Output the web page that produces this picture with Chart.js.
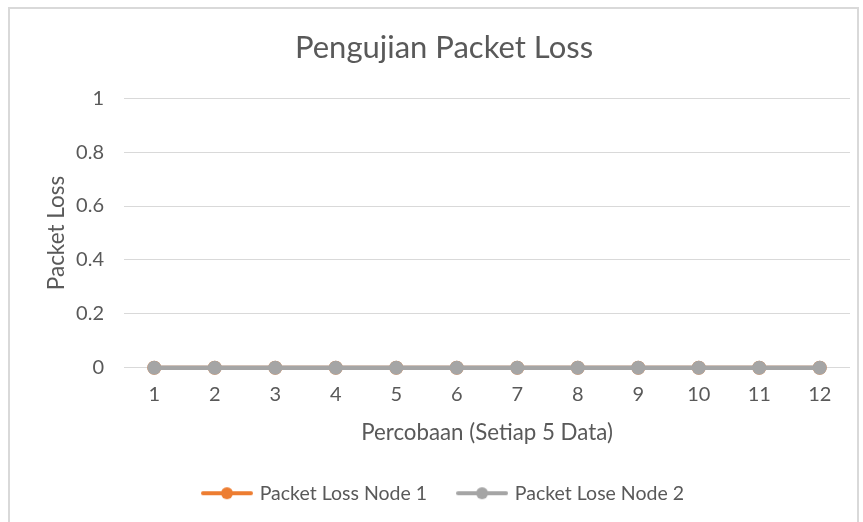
<!DOCTYPE html>
<html>
<head>
<meta charset="utf-8">
<script src="https://cdn.jsdelivr.net/npm/chart.js@4/dist/chart.umd.min.js"></script>
<style>
    html, body { margin: 0; padding: 0; background: #fff; }
    #wrap { position: relative; width: 863px; height: 522px; }
    #frame { position: absolute; left: 8px; top: 7px; width: 851px; height: 520px; border: 2px solid #d9d9d9; box-sizing: border-box; }
    canvas { position: absolute; left: 0; top: 0; }
</style>
</head>
<body>
<div id="wrap">
    <div id="frame"></div>
    <canvas id="chart" width="863" height="522"></canvas>
</div>
<script>
    const categories = ['1', '2', '3', '4', '5', '6', '7', '8', '9', '10', '11', '12'];
    const lossNode1 = [0, 0, 0, 0, 0, 0, 0, 0, 0, 0, 0, 0];
    const loseNode2 = [0, 0, 0, 0, 0, 0, 0, 0, 0, 0, 0, 0];
    const yTicks = [0, 0.2, 0.4, 0.6, 0.8, 1];

    const FONT = "Lato, 'Open Sans', sans-serif";
    const TEXT = '#595959';
    const ORANGE = '#ed7d31';
    const GRAY = '#a5a5a5';

    // small line + marker image for the legend
    function legendMark(color) {
        const c = document.createElement('canvas');
        c.width = 52;
        c.height = 14;
        const g = c.getContext('2d');
        g.strokeStyle = color;
        g.lineWidth = 4;
        g.lineCap = 'round';
        g.beginPath();
        g.moveTo(2, 7);
        g.lineTo(50, 7);
        g.stroke();
        g.fillStyle = color;
        g.beginPath();
        g.arc(26, 7, 6, 0, Math.PI * 2);
        g.fill();
        return c;
    }

    new Chart(document.getElementById('chart').getContext('2d'), {
        type: 'line',
        data: {
            labels: categories,
            datasets: [
                {
                    label: 'Packet Loss Node 1',
                    data: lossNode1,
                    borderColor: ORANGE,
                    backgroundColor: ORANGE,
                    borderWidth: 4,
                    pointRadius: 7,
                    pointBorderWidth: 0,
                    pointBackgroundColor: ORANGE,
                    clip: false,
                    order: 2
                },
                {
                    label: 'Packet Lose Node 2',
                    data: loseNode2,
                    borderColor: GRAY,
                    backgroundColor: GRAY,
                    borderWidth: 4.5,
                    pointRadius: 7,
                    pointBorderWidth: 0,
                    pointBackgroundColor: GRAY,
                    clip: false,
                    order: 1
                }
            ]
        },
        options: {
            responsive: false,
            animation: false,
            layout: { padding: { left: 38, right: 13, top: 0, bottom: 9 } },
            plugins: {
                title: {
                    display: true,
                    text: 'Pengujian Packet Loss',
                    color: TEXT,
                    font: { family: FONT, size: 31, weight: 'normal' },
                    padding: { top: 29, bottom: 32 }
                },
                legend: {
                    display: true,
                    position: 'bottom',
                    labels: {
                        color: TEXT,
                        font: { family: FONT, size: 19.5 },
                        usePointStyle: true,
                        pointStyleWidth: 46,
                        boxHeight: 14,
                        padding: 32,
                        generateLabels: chart => chart.data.datasets.map((ds, i) => ({
                            text: ds.label,
                            fillStyle: ds.borderColor,
                            strokeStyle: ds.borderColor,
                            fontColor: TEXT,
                            lineWidth: 0,
                            pointStyle: legendMark(ds.borderColor),
                            datasetIndex: i,
                            hidden: false
                        }))
                    }
                },
                tooltip: { enabled: false }
            },
            scales: {
                x: {
                    offset: true,
                    grid: { display: false, drawTicks: false },
                    border: { display: false },
                    ticks: { color: TEXT, font: { family: FONT, size: 20 }, padding: 15 },
                    title: {
                        display: true,
                        text: 'Percobaan (Setiap 5 Data)',
                        color: TEXT,
                        font: { family: FONT, size: 22.3 },
                        padding: { top: -2, bottom: 5 }
                    }
                },
                y: {
                    min: 0,
                    max: 1,
                    afterBuildTicks: scale => { scale.ticks = yTicks.map(v => ({ value: v })); },
                    afterFit: scale => { scale.width = 86; },
                    grid: { color: '#d9d9d9', lineWidth: 1, drawTicks: false },
                    border: { display: false },
                    ticks: {
                        color: TEXT,
                        font: { family: FONT, size: 20 },
                        padding: 20,
                        callback: v => String(v)
                    },
                    title: {
                        display: true,
                        text: 'Packet Loss',
                        color: TEXT,
                        font: { family: FONT, size: 22.5 },
                        padding: { top: 5, bottom: 0 }
                    }
                }
            }
        }
    });
</script>
</body>
</html>
